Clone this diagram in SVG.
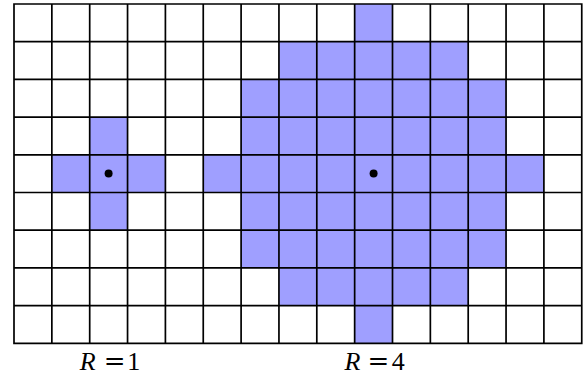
<svg xmlns="http://www.w3.org/2000/svg" width="586" height="378" viewBox="0 0 586 378">
<style>
.fill{fill:#9f9fff;stroke:none}
.grid{fill:none;stroke:#000;stroke-width:1.7;stroke-linecap:square}
.dot{fill:#000}
.eq{font-family:"DejaVu Serif",serif}
</style>
<rect width="586" height="378" fill="#fff"/>
<g id="region-r1">
<rect class="fill" x="89.7" y="117.1" width="37.85" height="113.1"/>
<rect class="fill" x="51.85" y="154.8" width="113.55" height="37.7"/>
<circle class="dot" cx="108.6" cy="173.6" r="4"/>
</g>
<g id="region-r4">
<rect class="fill" x="354.65" y="4" width="37.85" height="37.7"/>
<rect class="fill" x="278.95" y="41.7" width="189.25" height="37.7"/>
<rect class="fill" x="241.1" y="79.4" width="264.95" height="188.5"/>
<rect class="fill" x="203.25" y="154.8" width="340.65" height="37.7"/>
<rect class="fill" x="278.95" y="267.9" width="189.25" height="37.7"/>
<rect class="fill" x="354.65" y="305.6" width="37.85" height="37.7"/>
<circle class="dot" cx="373.6" cy="173.6" r="4"/>
</g>
<g id="grid">
<path class="grid" d="M14,4V343.3M51.85,4V343.3M89.7,4V343.3M127.55,4V343.3M165.4,4V343.3M203.25,4V343.3M241.1,4V343.3M278.95,4V343.3M316.8,4V343.3M354.65,4V343.3M392.5,4V343.3M430.35,4V343.3M468.2,4V343.3M506.05,4V343.3M543.9,4V343.3M581.75,4V343.3M14,4H581.75M14,41.7H581.75M14,79.4H581.75M14,117.1H581.75M14,154.8H581.75M14,192.5H581.75M14,230.2H581.75M14,267.9H581.75M14,305.6H581.75M14,343.3H581.75"/>
</g>
<g id="labels" font-family="'Liberation Serif', 'DejaVu Serif', serif" font-size="26" fill="#000">
<text y="369.5" text-anchor="middle"><tspan font-style="italic" x="87.8">R</tspan><tspan class="eq" x="114.7">=</tspan><tspan x="133.8">1</tspan></text>
<text y="369.5" text-anchor="middle"><tspan font-style="italic" x="352.5">R</tspan><tspan class="eq" x="378.3">=</tspan><tspan x="398.3">4</tspan></text>
</g>
</svg>
